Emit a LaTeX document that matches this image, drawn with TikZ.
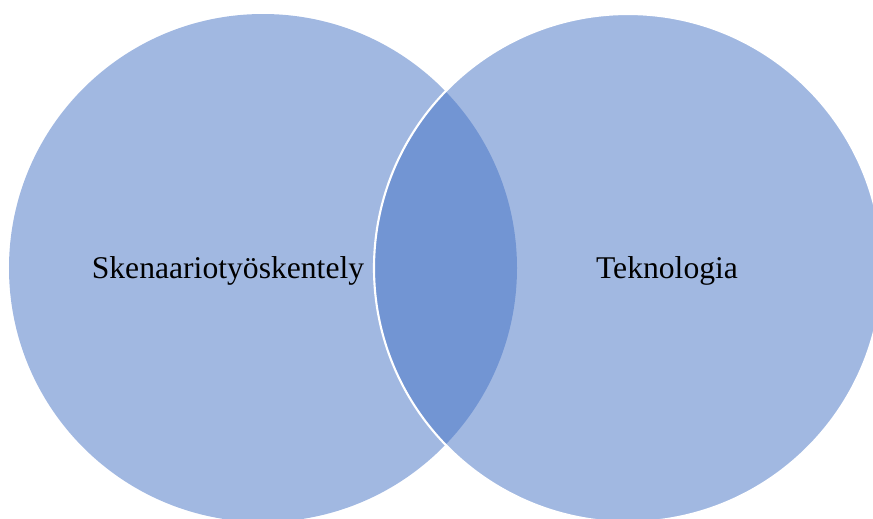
\documentclass[tikz,border=0pt]{standalone}
\usepackage{fontspec}
\setmainfont{Liberation Serif}
\definecolor{vennblue}{RGB}{68,114,196}

\begin{document}
\begin{tikzpicture}
    \useasboundingbox (0,0) rectangle (17.46,-10.36);
    %circles
    \node[circle,fill=vennblue,fill opacity=0.5,minimum size=10.16cm,inner sep=0pt] (skenaario) at (5.26,-5.36) {};
    \node[circle,fill=vennblue,fill opacity=0.5,draw=white,line width=1.2pt,minimum size=10.16cm,inner sep=0pt] (tekno) at (12.56,-5.36) {};

    %labels
    \node[font=\fontsize{18}{22}\selectfont] (skenaariotext) at (4.56,-5.42) {Skenaariotyöskentely};
    \node[font=\fontsize{18}{22}\selectfont] (teknotext) at (13.34,-5.42) {Teknologia};
\end{tikzpicture}
\end{document}
